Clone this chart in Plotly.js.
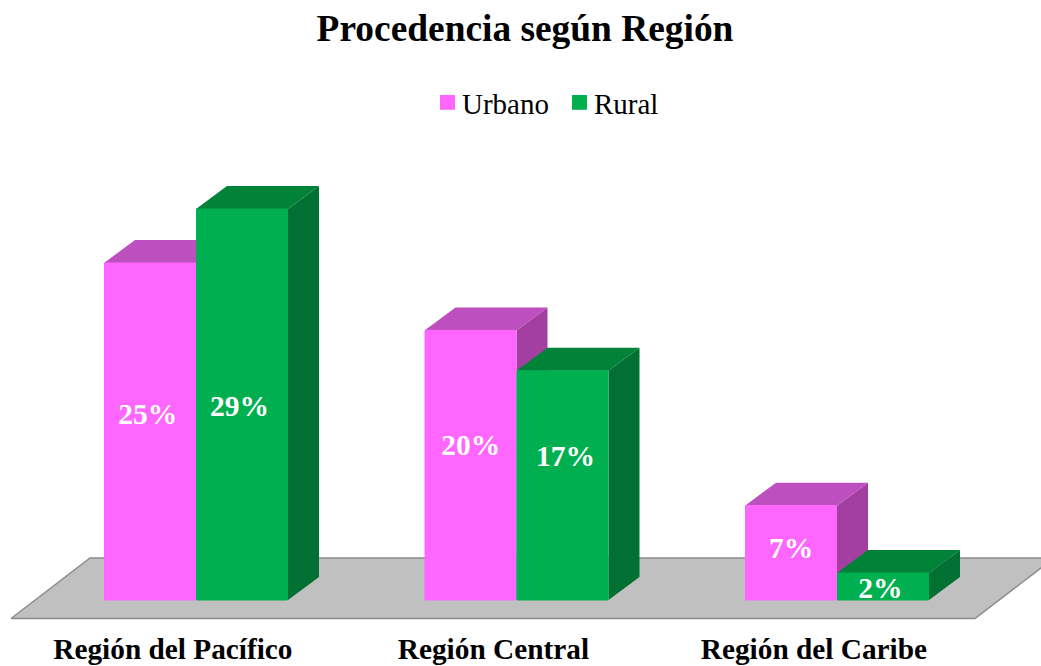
<!DOCTYPE html>
<html>
<head>
<meta charset="utf-8">
<script src="https://cdn.plot.ly/plotly-3.0.1.min.js"></script>
<style>html,body{margin:0;padding:0;background:#fff}</style>
</head>
<body>
<div id="chart" style="width:1041px;height:666px"></div>
<script>
const categories = ["Región del Pacífico", "Región Central", "Región del Caribe"];
const urbano = [25, 20, 7];
const rural = [29, 17, 2];
const urbanoLabelHeights = [13.62, 11.32, 3.66];
const ruralLabelHeights = [14.22, 10.5, 0.68];
const urbanoLabelShift = [-0.007, 0.001, 0];
const ruralLabelShift = [-0.008, 0.009, -0.008];

const SERIF = '"Liberation Serif", "Times New Roman", serif';
const PX = 1 / 320.5;
const W = 92 * PX, DX = 31 * PX, DY = 23 / 13.48, N = categories.length;
const idx = categories.map((_, i) => i);

function face(values, left, kind, color, z) {
  const xs = [], ys = [];
  values.forEach((v, i) => {
    const a = i + left, b = a + W;
    if (kind === 'top') {
      xs.push(a, b, b + DX, a + DX, a, null);
      ys.push(v, v, v + DY, v + DY, v, null);
    } else {
      xs.push(b, b + DX, b + DX, b, b, null);
      ys.push(v, v + DY, DY, 0, v, null);
    }
  });
  return {type: 'scatter', mode: 'none', x: xs, y: ys, fill: 'toself', fillcolor: color,
          showlegend: false, hoverinfo: 'skip', zorder: z};
}
function front(name, values, left, color, z) {
  return {type: 'bar', name, x: idx, y: values, width: W - PX, offset: left + 0.5 * PX,
          marker: {color, line: {color, width: 1}}, hoverinfo: 'skip', zorder: z};
}
function labels(values, heights, shifts, left) {
  return {type: 'scatter', mode: 'text', x: idx.map(i => i + left + W / 2 + shifts[i]), y: heights,
          text: values.map(v => v + '%'), textposition: 'middle center',
          textfont: {family: SERIF, size: 29.5, color: '#ffffff', weight: 700},
          showlegend: false, hoverinfo: 'skip', zorder: 6};
}

const floor = {type: 'scatter', mode: 'lines', x: [-0.5772, 2.4306, 2.677, -0.3307, -0.5772],
  y: [-1.372, -1.372, 3.116, 3.116, -1.372], fill: 'toself', fillcolor: '#C0C0C0',
  line: {color: '#8C8C8C', width: 1.5}, showlegend: false, hoverinfo: 'skip', zorder: 0};

const data = [
  floor,
  face(urbano, -W, 'side', '#A23FA0', 1),
  face(urbano, -W, 'top', '#BE4FBE', 1),
  front('Urbano', urbano, -W, '#FF66FF', 2),
  face(rural, 0, 'side', '#007033', 3),
  face(rural, 0, 'top', '#008239', 3),
  front('Rural', rural, 0, '#00B050', 4),
  labels(urbano, urbanoLabelHeights, urbanoLabelShift, -W),
  labels(rural, ruralLabelHeights, ruralLabelShift, 0)
];

const layout = {
  width: 1041, height: 666,
  margin: {l: 0, r: 0, t: 0, b: 41, pad: 0},
  paper_bgcolor: '#ffffff', plot_bgcolor: 'rgba(0,0,0,0)',
  barmode: 'overlay',
  title: {text: 'Procedencia según Región', x: 525 / 1041, xanchor: 'center', y: 0.958, yanchor: 'middle',
          font: {family: SERIF, size: 37.4, color: '#000000', weight: 700}},
  legend: {orientation: 'h', x: 543 / 1041, xanchor: 'center', y: 1 - 77 / 625, yanchor: 'top',
           traceorder: 'normal', font: {family: SERIF, size: 29, color: '#000000'}},
  xaxis: {range: [-196 / 320.5, 845 / 320.5], tickmode: 'array',
          tickvals: idx.map(i => i - 0.072), ticktext: categories,
          showgrid: false, zeroline: false, showline: false, ticks: '', ticklabelstandoff: 4,
          tickfont: {family: SERIF, size: 29.3, color: '#000000', weight: 700}, fixedrange: true},
  yaxis: {range: [-25 / 13.48, 600 / 13.48], visible: false, fixedrange: true}
};
Plotly.newPlot('chart', data, layout, {displayModeBar: false, staticPlot: true}).then(gd => {
  gd.querySelectorAll('.legend .legendpoints path').forEach(p => {
    p.setAttribute('transform', (p.getAttribute('transform') || '') + ' translate(5.5,0) scale(1.15)');
  });
});
</script>
</body>
</html>
